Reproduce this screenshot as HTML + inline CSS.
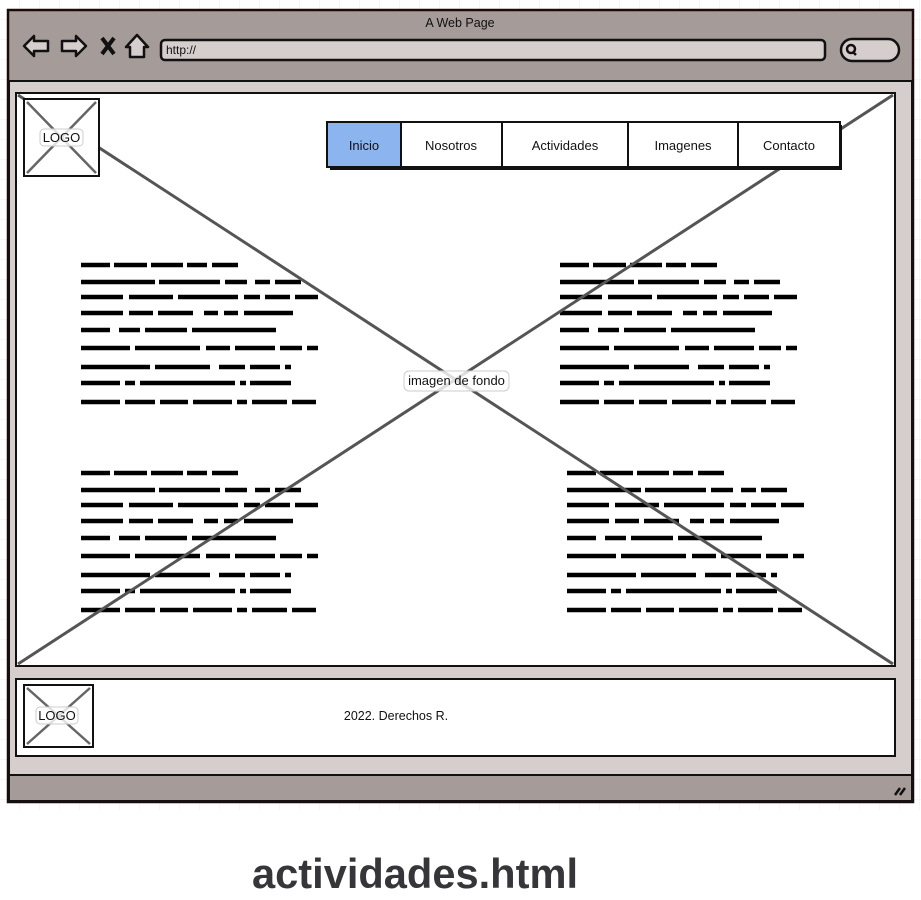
<!DOCTYPE html>
<html><head><meta charset="utf-8"><style>
html,body{margin:0;padding:0;background:#fff;}
svg{display:block;}
text{font-family:"Liberation Sans",sans-serif;}
</style></head><body>
<svg width="921" height="900" viewBox="0 0 921 900" xmlns="http://www.w3.org/2000/svg">
<defs>
<pattern id="grid" width="20" height="20" patternUnits="userSpaceOnUse"><path d="M20 0V20H0" fill="none" stroke="#eeeeee" stroke-width="1"/></pattern>
<g id="blk" stroke="#000" stroke-width="4.5" stroke-linecap="butt" fill="none">
<path d="M0 0h29M33 0h33M70 0h32M106 0h20M131 0h26"/>
<path d="M0 17h74M78 17h61M144 17h22M174 17h15M194 17h26"/>
<path d="M0 32h42M48 32h44M97 32h60M163 32h16M184 32h25M214 32h23"/>
<path d="M0 48h42M48 48h24M77 48h35M123 48h14M143 48h14M163 48h49"/>
<path d="M0 65h29M38 65h21M64 65h42M111 65h84"/>
<path d="M0 83h49M54 83h65M125 83h24M154 83h40M199 83h22M226 83h11"/>
<path d="M0 102h69M74 102h55M138 102h26M169 102h30M204 102h6"/>
<path d="M0 118h39M44 118h10M59 118h95M159 118h6M169 118h41"/>
<path d="M0 137h39M44 137h30M79 137h28M112 137h39M156 137h10M171 137h35M211 137h24"/>
</g>
</defs>
<rect width="921" height="810" fill="url(#grid)"/>
<rect x="8" y="10" width="905" height="792" fill="#a59b99" stroke="#1a0a0a" stroke-width="2.5"/>
<rect x="9" y="81" width="903" height="694" fill="#d6cecd" stroke="#111" stroke-width="2"/>
<text x="460" y="27" font-size="12.5" text-anchor="middle" fill="#111">A Web Page</text>
<path d="M24 46 L34 36 V41 H48 V51 H34 V56 Z" fill="#d6cecd" stroke="#111" stroke-width="2.5" stroke-linejoin="round"/>
<path d="M86 46 L76 36 V41 H62 V51 H76 V56 Z" fill="#d6cecd" stroke="#111" stroke-width="2.5" stroke-linejoin="round"/>
<path d="M102 38 L114 54 M114 38 L102 54" stroke="#111" stroke-width="4"/>
<path d="M126 47 L137 35 L148 47 H144 V57 H130 V47 Z" fill="#d6cecd" stroke="#111" stroke-width="2.5" stroke-linejoin="round"/>
<rect x="161" y="40" width="664" height="20" rx="4" fill="#d6cecd" stroke="#111" stroke-width="2.5"/>
<text x="166" y="54" font-size="12" fill="#111">http://</text>
<rect x="841" y="39" width="58" height="22" rx="11" fill="#d6cecd" stroke="#111" stroke-width="2.5"/>
<circle cx="851" cy="49" r="4" fill="none" stroke="#111" stroke-width="2.5"/><path d="M853 52 l3 3" stroke="#111" stroke-width="2.5"/>
<rect x="16" y="93" width="879" height="573" fill="#fff" stroke="#111" stroke-width="2"/>
<use href="#blk" x="81" y="265"/>
<use href="#blk" x="560" y="265"/>
<use href="#blk" x="81" y="473"/>
<use href="#blk" x="567" y="473"/>
<path d="M18 95 L893 664 M893 95 L18 664" stroke="#555" stroke-width="3"/>
<rect x="24" y="99" width="75" height="77" fill="#fff" stroke="#111" stroke-width="2"/>
<path d="M27 102 L96 173 M96 102 L27 173" stroke="#666" stroke-width="2.5"/>
<rect x="40" y="129" width="43" height="17" rx="4" fill="#fff" fill-opacity="0.8" stroke="#ccc"/>
<text x="61.5" y="142" font-size="13" text-anchor="middle" fill="#111">LOGO</text>
<rect x="330" y="125" width="512" height="45" fill="#111"/>
<rect x="327" y="122" width="513" height="45" fill="#fff" stroke="#111" stroke-width="2"/>
<rect x="328" y="123" width="73" height="43" fill="#8cb4ee"/>
<path d="M401 122V167M502 122V167M628 122V167M738 122V167" stroke="#111" stroke-width="2"/>
<g font-size="13" text-anchor="middle" fill="#111">
<text x="364" y="150">Inicio</text>
<text x="451" y="150">Nosotros</text>
<text x="565" y="150">Actividades</text>
<text x="683" y="150">Imagenes</text>
<text x="789" y="150">Contacto</text>
</g>
<rect x="404" y="371" width="105" height="20" rx="5" fill="#fff" fill-opacity="0.8" stroke="#ccc"/>
<text x="456.5" y="385" font-size="13" text-anchor="middle" fill="#111">imagen de fondo</text>
<rect x="16" y="679" width="879" height="77" fill="#fff" stroke="#111" stroke-width="2"/>
<rect x="24" y="685" width="69" height="62" fill="#fff" stroke="#111" stroke-width="2"/>
<path d="M27 688 L90 744 M90 688 L27 744" stroke="#666" stroke-width="2.5"/>
<rect x="36" y="707" width="42" height="17" rx="4" fill="#fff" fill-opacity="0.8" stroke="#ccc"/>
<text x="57" y="720" font-size="13" text-anchor="middle" fill="#111">LOGO</text>
<text x="396" y="720" font-size="12.5" text-anchor="middle" fill="#111">2022. Derechos R.</text>
<rect x="9" y="775" width="903" height="26" fill="#a59b99" stroke="#111" stroke-width="2"/>
<path d="M895 795 l5 -7 M900 795 l5 -7" stroke="#111" stroke-width="2.5"/>
<text x="415" y="888" font-size="42" font-weight="bold" text-anchor="middle" fill="#36363a" textLength="326" lengthAdjust="spacingAndGlyphs">actividades.html</text>
</svg>
</body></html>
